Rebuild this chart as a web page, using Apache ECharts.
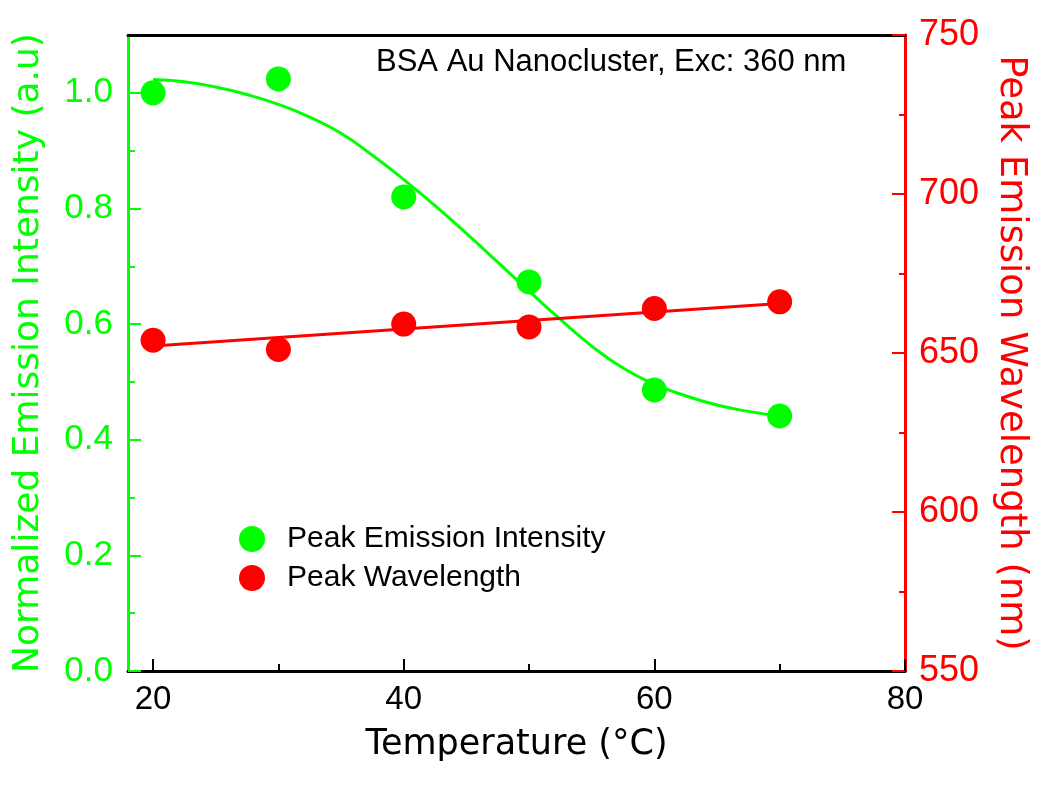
<!DOCTYPE html>
<html>
<head>
<meta charset="utf-8">
<title>BSA Au Nanocluster</title>
<script src="https://cdn.jsdelivr.net/npm/echarts@6/dist/echarts.min.js"></script>
<style>
  html, body { margin: 0; padding: 0; background: #fff; }
  #main { width: 1050px; height: 785px; }
</style>
</head>
<body>
<div id="main"></div>
<script>
// measured points
var temps = [20, 30, 40, 50, 60, 70]
var intensity = [1.0, 1.024, 0.82, 0.673, 0.486, 0.441]
var wavelength = [654.0, 651.1, 659.1, 658.2, 664.0, 666.1]

// fit curves
var fitTemps = [20, 22.5, 25, 27.5, 30, 32.5, 35, 37.5, 40, 42.5, 45, 47.5, 50, 52.5, 55, 57.5, 60, 62.5, 65, 67.5, 70]
var intensityFit = [1.023, 1.019, 1.010, 0.997, 0.980, 0.958, 0.930, 0.892, 0.850, 0.805, 0.757, 0.707, 0.657, 0.608, 0.562, 0.524, 0.496, 0.476, 0.460, 0.449, 0.441]
var wlFitTemps = [20, 70]
var wlFit = [652.2, 665.6]

// ticks
var xTicks = [20, 40, 60, 80]
var xMinorTicks = [30, 50, 70]
var leftTicks = [0, 0.2, 0.4, 0.6, 0.8, 1.0]
var leftMinorTicks = [0.1, 0.3, 0.5, 0.7, 0.9]

var GREEN = '#00ff00'
var RED = '#ff0000'
var labelFont = '"Liberation Sans", Arial, sans-serif'
var nameFont = '"DejaVu Sans", sans-serif'

function pairs(xs, ys) {
  return xs.map(function (x, i) { return [x, ys[i]] })
}

var chart = echarts.init(document.getElementById('main'))

var option = {
  backgroundColor: '#fff',
  animation: false,
  title: {
    text: 'BSA Au Nanocluster, Exc: 360 nm',
    left: 371,
    top: 42,
    textStyle: {fontFamily: labelFont, fontSize: 31, fontWeight: 'normal', color: '#000'}
  },
  legend: {
    orient: 'vertical',
    left: 234,
    top: 519,
    itemWidth: 60,
    itemHeight: 26,
    itemGap: 9,
    icon: 'circle',
    data: ['Peak Emission Intensity', 'Peak Wavelength'],
    textStyle: {fontFamily: labelFont, fontSize: 30, color: '#000'}
  },
  grid: {left: 128, right: 145, top: 35, bottom: 114},
  xAxis: [
    {
      type: 'value', min: 18, max: 80, position: 'bottom',
      name: 'Temperature (°C)', nameLocation: 'middle', nameGap: 56,
      nameTextStyle: {fontFamily: nameFont, fontSize: 35, color: '#000'},
      axisLine: {lineStyle: {color: '#000', width: 3}},
      axisTick: {inside: true, length: 12, customValues: xTicks, lineStyle: {color: '#000', width: 2}},
      axisLabel: {customValues: xTicks, margin: 12, color: '#000', fontSize: 33, fontFamily: labelFont},
      splitLine: {show: false}
    },
    {
      // minor ticks
      type: 'value', min: 18, max: 80, position: 'bottom',
      axisLine: {show: false},
      axisTick: {inside: true, length: 7, customValues: xMinorTicks, lineStyle: {color: '#000', width: 2}},
      axisLabel: {show: false},
      splitLine: {show: false}
    },
    {
      // top frame
      type: 'value', min: 18, max: 80, position: 'top',
      axisLine: {lineStyle: {color: '#000', width: 3}},
      axisTick: {show: false},
      axisLabel: {show: false},
      splitLine: {show: false}
    }
  ],
  yAxis: [
    {
      type: 'value', min: 0, max: 1.1, position: 'left',
      name: 'Normalized Emission Intensity (a.u)', nameLocation: 'middle', nameGap: 81,
      nameTextStyle: {fontFamily: nameFont, fontSize: 36, color: GREEN},
      axisLine: {lineStyle: {color: GREEN, width: 3}},
      axisTick: {inside: true, length: 13, customValues: leftTicks, lineStyle: {color: GREEN, width: 2}},
      axisLabel: {
        customValues: leftTicks, margin: 15, color: GREEN, fontSize: 35, fontFamily: labelFont,
        formatter: function (v) { return v.toFixed(1) }
      },
      splitLine: {show: false}
    },
    {
      type: 'value', min: 550, max: 750, interval: 50, position: 'right',
      name: 'Peak Emission Wavelength (nm)', nameLocation: 'middle', nameGap: 87, nameRotate: -90,
      nameTextStyle: {fontFamily: nameFont, fontSize: 37, color: RED},
      axisLine: {lineStyle: {color: RED, width: 3}},
      axisTick: {inside: true, length: 13, lineStyle: {color: RED, width: 2}},
      minorTick: {show: true, splitNumber: 2, length: 6, lineStyle: {color: RED, width: 2}},
      axisLabel: {margin: 14, color: RED, fontSize: 36, fontFamily: labelFont},
      splitLine: {show: false}
    },
    {
      // minor ticks, left axis
      type: 'value', min: 0, max: 1.1, position: 'left',
      axisLine: {show: false},
      axisTick: {inside: true, length: 7, customValues: leftMinorTicks, lineStyle: {color: GREEN, width: 2}},
      axisLabel: {show: false},
      splitLine: {show: false}
    }
  ],
  series: [
    {
      name: 'Intensity fit', type: 'line', xAxisIndex: 0, yAxisIndex: 0,
      data: pairs(fitTemps, intensityFit), smooth: true, showSymbol: false,
      lineStyle: {color: GREEN, width: 3}, z: 2
    },
    {
      name: 'Wavelength fit', type: 'line', xAxisIndex: 0, yAxisIndex: 1,
      data: pairs(wlFitTemps, wlFit), showSymbol: false,
      lineStyle: {color: RED, width: 3}, z: 2
    },
    {
      name: 'Peak Emission Intensity', type: 'scatter', xAxisIndex: 0, yAxisIndex: 0,
      data: pairs(temps, intensity), symbolSize: 25,
      itemStyle: {color: GREEN, opacity: 1}, z: 3
    },
    {
      name: 'Peak Wavelength', type: 'scatter', xAxisIndex: 0, yAxisIndex: 1,
      data: pairs(temps, wavelength), symbolSize: 25,
      itemStyle: {color: RED, opacity: 1}, z: 3
    }
  ]
}

chart.setOption(option)
</script>
</body>
</html>
